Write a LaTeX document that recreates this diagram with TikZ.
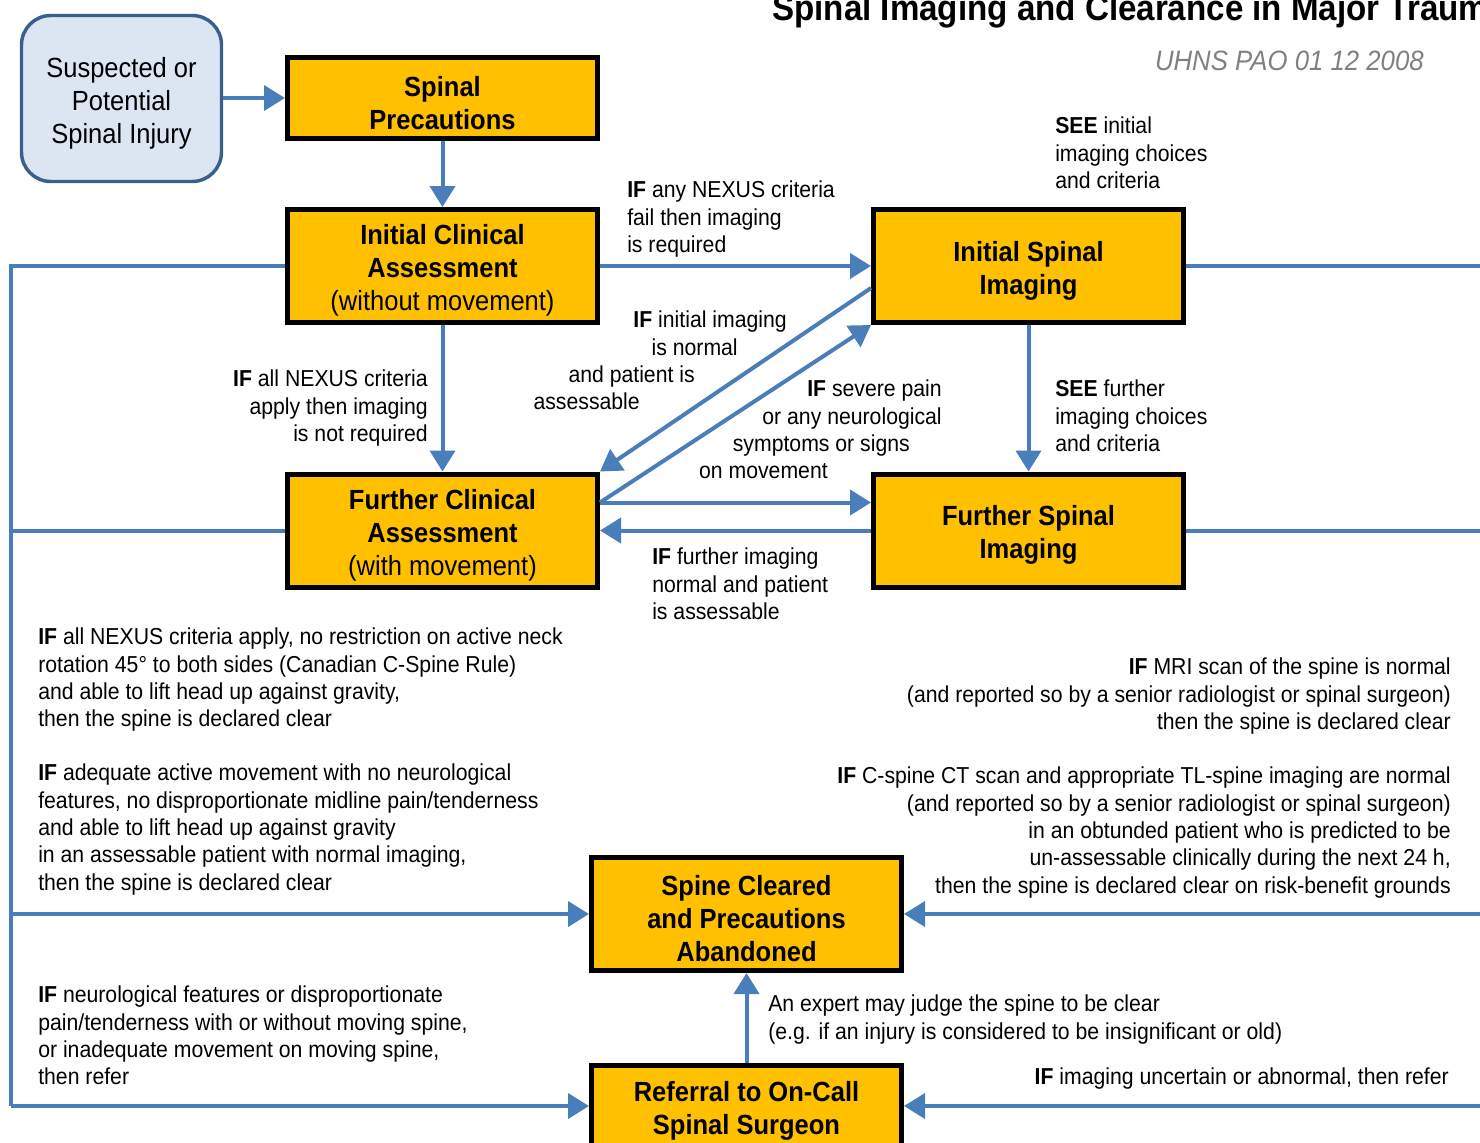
\documentclass[tikz,border=0pt]{standalone}
\usepackage{fontspec}
\setmainfont{Liberation Sans}[FakeStretch=0.92]
\usetikzlibrary{arrows.meta,calc}
\definecolor{boxfill}{HTML}{FFC000}
\definecolor{linkblue}{HTML}{4A7EBB}
\definecolor{startfill}{HTML}{DCE6F2}
\definecolor{startdraw}{HTML}{3A5F8F}
\definecolor{subgray}{HTML}{808080}
\newcommand{\bodyf}{\fontsize{17.3pt}{20.5pt}\selectfont}
\newcommand{\boxf}{\fontsize{20.8pt}{24.75pt}\selectfont}
\newcommand{\padr}[1]{\rule{#1}{0pt}}
\newcommand{\toprl}{\rule{0pt}{22pt}}
\begin{document}
\begin{tikzpicture}[x=0.75pt,y=-0.75pt,
  stepbox/.style={draw=black, line width=3.75pt, fill=boxfill, minimum width=232.5pt, minimum height=84.75pt, align=center, font=\boxf\bfseries, inner sep=2pt},
  shortbox/.style={stepbox, minimum height=60.75pt},
  startbox/.style={draw=startdraw, line width=2.6pt, fill=startfill, rounded corners=22pt, minimum width=150pt, minimum height=124.5pt, align=center, font=\boxf},
  lbl/.style={font=\bodyf, inner sep=0pt},
  link/.style={draw=linkblue, line width=3pt},
  arr/.style={link, -{Triangle[length=15.75pt,width=18.75pt]}},
]
\useasboundingbox (0,0) rectangle (1480,1142);
\clip (0,0) rectangle (1480,1142);

% title
\node[anchor=base west, inner sep=0pt, font=\fontsize{27pt}{30pt}\selectfont\bfseries] (title) at (772,20) {Spinal Imaging and Clearance in Major Trauma};
\node[anchor=east, inner sep=0pt, text=subgray, font=\fontsize{21pt}{24pt}\selectfont\itshape] (ref0) at (1424,61) {UHNS PAO 01 12 2008};

% nodes
\node[startbox] (sus) at (121.5,98.5) {\toprl Suspected or\\Potential\\Spinal Injury};
\node[shortbox] (sp) at (442.5,98) {\toprl Spinal\\Precautions};
\node[stepbox] (ica) at (442.5,266) {\toprl Initial Clinical\\Assessment\\{\mdseries (without movement)}};
\node[stepbox] (fca) at (442.5,530.5) {\toprl Further Clinical\\Assessment\\{\mdseries (with movement)}};
\node[stepbox] (isi) at (1028.5,266) {\toprl Initial Spinal\\Imaging};
\node[stepbox] (fsi) at (1028.5,530.5) {\toprl Further Spinal\\Imaging};
\node[stepbox] (sc) at (746.5,914) {\toprl Spine Cleared\\and Precautions\\Abandoned};
\node[shortbox] (rf) at (746.5,1106) {\toprl Referral to On-Call\\Spinal Surgeon};

% coordinates for side rails
\coordinate (lx) at (11,266);
\coordinate (rx) at (1500,266);

% connectors
\draw[arr] (sus.east |- sp.west) -- (sp.west);
\draw[arr] (sp.south) -- (ica.north);
\draw[arr] (ica.east) -- (isi.west);
\draw[arr] (ica.south) -- (fca.north);
\draw[arr] (isi.south) -- (fsi.north);
\draw[arr] ($(isi.west)+(0,22)$) -- (fca.north east);
\draw[arr] ($(fca.east)+(0,-28)$) -- (isi.south west);
\draw[arr] ($(fca.east)+(0,-28)$) -- ($(fsi.west)+(0,-28)$);
\draw[arr] (fsi.west) -- (fca.east);
\draw[link] (ica.west) -- (lx) -- (lx |- rf.west);
\draw[link] (fca.west) -- (fca.west -| lx);
\draw[arr] (sc.west -| lx) -- (sc.west);
\draw[arr] (rf.west -| lx) -- (rf.west);
\draw[arr] (rf.north) -- (sc.south);
\draw[link] (isi.east) -- (rx) -- (rx |- rf.east);
\draw[link] (fsi.east) -- (fsi.east -| rx);
\draw[arr] (sc.east -| rx) -- (sc.east);
\draw[arr] (rf.east -| rx) -- (rf.east);

% labels
\node[lbl, anchor=north west, align=left] (l1) at (627,181) {\textbf{IF} any NEXUS criteria\\fail then imaging\\is required};
\node[lbl, anchor=north east, align=right] (l2) at (428,370) {\textbf{IF} all NEXUS criteria\\apply then imaging\\is not required};
\node[lbl, anchor=north west, align=left] (l3) at (1055,117) {\textbf{SEE} initial\\imaging choices\\and criteria};
\node[lbl, anchor=north west, align=left] (l4) at (1055,380) {\textbf{SEE} further\\imaging choices\\and criteria};
\node[lbl, anchor=north east, align=right] (l5) at (787,311) {\textbf{IF} initial imaging\\is normal\padr{36.75pt}\\and patient is\padr{69pt}\\assessable\padr{110.25pt}};
\node[lbl, anchor=north east, align=right] (l6) at (942,380) {\textbf{IF} severe pain\\or any neurological\\symptoms or signs\padr{24pt}\\on movement\padr{85.5pt}};
\node[lbl, anchor=north west, align=left] (l7) at (652,548) {\textbf{IF} further imaging\\normal and patient\\is assessable};
\node[lbl, anchor=north west, align=left] (l8) at (38,628) {\textbf{IF} all NEXUS criteria apply, no restriction on active neck\\rotation 45° to both sides (Canadian C-Spine Rule)\\and able to lift head up against gravity,\\then the spine is declared clear};
\node[lbl, anchor=north west, align=left] (l9) at (38,764) {\textbf{IF} adequate active movement with no neurological\\features, no disproportionate midline pain/tenderness\\and able to lift head up against gravity\\in an assessable patient with normal imaging,\\then the spine is declared clear};
\node[lbl, anchor=north west, align=left] (l10) at (38,986) {\textbf{IF} neurological features or disproportionate\\pain/tenderness with or without moving spine,\\or inadequate movement on moving spine,\\then refer};
\node[lbl, anchor=north east, align=right] (r1) at (1451,658) {\textbf{IF} MRI scan of the spine is normal\\(and reported so by a senior radiologist or spinal surgeon)\\then the spine is declared clear};
\node[lbl, anchor=north east, align=right] (r2) at (1451,767) {\textbf{IF} C-spine CT scan and appropriate TL-spine imaging are normal\\(and reported so by a senior radiologist or spinal surgeon)\\in an obtunded patient who is predicted to be\\un-assessable clinically during the next 24 h,\\then the spine is declared clear on risk-benefit grounds};
\node[lbl, anchor=north east, align=right] (r3) at (1449,1068) {\textbf{IF} imaging uncertain or abnormal, then refer};
\node[lbl, anchor=north west, align=left] (ex) at (768,995) {An expert may judge the spine to be clear\\(e.g. if an injury is considered to be insignificant or old)};
\end{tikzpicture}
\end{document}
